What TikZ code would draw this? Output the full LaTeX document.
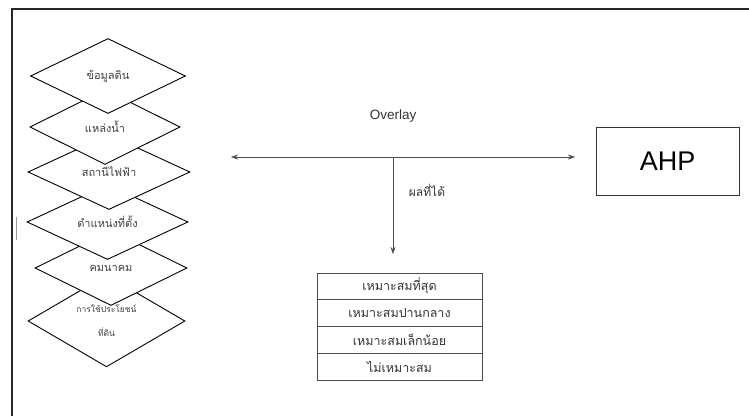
\documentclass[tikz,border=0pt]{standalone}
\usepackage{fontspec}
\setmainfont{Liberation Sans}
\newfontfamily\thaifont[Script=Thai]{Loma}
\usetikzlibrary{shapes.geometric,arrows.meta,positioning}

\begin{document}
\begin{tikzpicture}[
    x=1pt, y=-1pt,
    layer/.style = {draw, diamond, fill=white, line width=0.9pt,
      minimum width=155pt, minimum height=75pt, inner sep=0pt,
      font=\thaifont\fontsize{11}{12}\selectfont, text=black!75},
    cell/.style = {draw=black!70, minimum width=165pt, minimum height=26.5pt,
      inner sep=0pt, font=\thaifont\fontsize{12.5}{14}\selectfont, text=black!80},
    >={Stealth[length=7pt,width=5pt]}
  ]
  \useasboundingbox (0,0) rectangle (749,416);
  % กรอบ
  \draw[line width=1.2pt, black!85] (12,416) -- (12,9) -- (749,9);
  \draw[black!40] (16,217) -- (16,240);

  % ชั้นข้อมูล (วาดจากล่างขึ้นบน)
  \node[layer, minimum width=157pt, minimum height=84pt, align=center,
    font=\thaifont\fontsize{8.5}{24}\selectfont]
    (use) at (106.5,321) {การใช้ประโยชน์\\ที่ดิน};
  \node[layer, minimum width=152pt] (road) at (111,268) {คมนาคม};
  \node[layer, minimum width=161pt] (site) at (107.5,222) {ตำแหน่งที่ตั้ง};
  \node[layer, minimum width=162pt] (power) at (109,172) {สถานีไฟฟ้า};
  \node[layer, minimum width=150pt] (water) at (105,127) {แหล่งน้ำ};
  \node[layer] (soil) at (108,76) {ข้อมูลดิน};

  % การซ้อนทับ
  \coordinate (lay) at (231,157);
  \coordinate (mid) at (393,157);
  \coordinate (end) at (575,157);
  \coordinate (res) at (393,254);
  \node[draw=black!80, line width=0.9pt, minimum width=143pt, minimum height=68pt,
    font=\fontsize{27}{30}\selectfont] (ahp) at (667.5,161) {AHP};
  \draw[<->, black!70] (lay) -- (end);
  \draw[->, black!70] (mid) -- (res);
  \node[text=black!80, font=\fontsize{13.5}{16}\selectfont] (ovl) at (393,116) {Overlay};
  \node[text=black!80, font=\thaifont\fontsize{12}{14}\selectfont] (out) at (427,190) {ผลที่ได้};

  % ระดับความเหมาะสม
  \node[cell] (c1) at (399.5,286) {เหมาะสมที่สุด};
  \node[cell, below=0pt of c1] (c2) {เหมาะสมปานกลาง};
  \node[cell, below=0pt of c2] (c3) {เหมาะสมเล็กน้อย};
  \node[cell, below=0pt of c3] (c4) {ไม่เหมาะสม};
\end{tikzpicture}
\end{document}
